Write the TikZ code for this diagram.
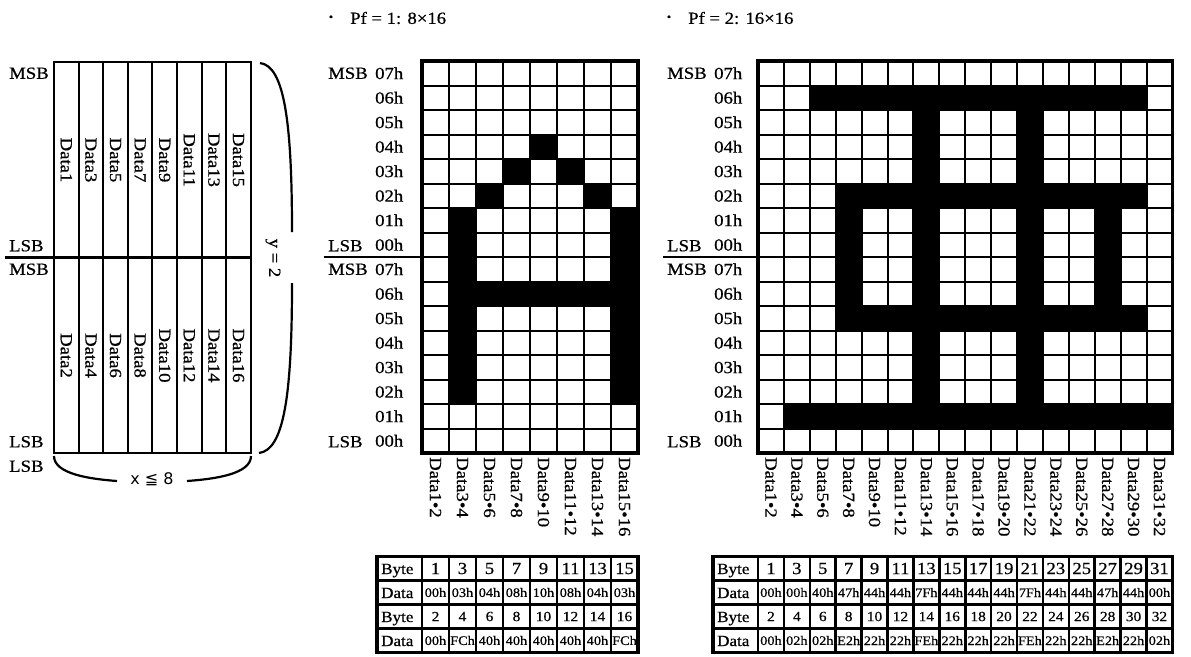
\documentclass[tikz,border=0pt]{standalone}
\usepackage{fontspec}
\setmainfont{Liberation Serif}[FakeStretch=1.1,FakeBold=0.6]
\newfontfamily\sansf{DejaVu Sans}
\usepackage{graphicx}

\tikzset{
  gl/.style={line width=2pt},
  bord/.style={line width=3.4pt},
  divl/.style={line width=2.8pt},
  brc/.style={line width=2.2pt},
  tline/.style={line width=2.6pt},
  lbl/.style={inner sep=0pt, font=\fontsize{17}{19}\selectfont},
  tlbl/.style={inner sep=0pt, font=\fontsize{15.5}{17}\selectfont},
  onum/.style={inner sep=0pt, font=\fontsize{17}{19}\selectfont},
  enum/.style={inner sep=0pt, font=\fontsize{14}{16}\selectfont},
  hexv/.style={inner sep=0pt, font=\fontsize{13}{15}\selectfont},
}

% #1 x0, #2 cell width, #3 list of byte values, #4 row of bit 0
\newcommand\drawbits[4]{%
  \foreach \v [count=\c from 0] in {#3} {
    \foreach \b in {0,...,7} {
      \pgfmathtruncatemacro\bitval{mod(floor(\v/pow(2,\b)),2)}
      \ifnum\bitval=1
        \fill (#1+\c*#2, 61+#4*24.5-\b*24.5) rectangle ++(#2,24.5);
      \fi
    }
  }
}

% #1 x0, #2 cell width, #3 number of columns
\newcommand\drawlattice[3]{%
  \foreach \i in {0,...,#3} \draw[gl] (#1+\i*#2,61) -- (#1+\i*#2,453);
  \foreach \j in {0,...,16} \draw[gl] (#1,61+\j*24.5) -- (#1+#3*#2,61+\j*24.5);
  \draw[bord] (#1,61) rectangle (#1+#3*#2,453);
}

% #1 x of MSB, #2 x of hex labels
\newcommand\rowlabels[2]{%
  \foreach \r in {0,...,7} {
    \pgfmathtruncatemacro\hv{7-\r}
    \node[lbl,anchor=west] at (#2,61+24.5*\r+12.25) {0\hv h};
    \node[lbl,anchor=west] at (#2,61+24.5*\r+208.25) {0\hv h};
  }
  \node[lbl,anchor=west] at (#1,73.25) {MSB};
  \node[lbl,anchor=west] at (#1,245.75) {LSB};
  \node[lbl,anchor=west] at (#1,269.25) {MSB};
  \node[lbl,anchor=west] at (#1,441.75) {LSB};
}

% #1 x0, #2 cell width, #3 number of columns
\newcommand\collabels[3]{%
  \foreach \i in {1,...,#3} {
    \pgfmathtruncatemacro\na{2*\i-1}
    \pgfmathtruncatemacro\nb{2*\i}
    \node[lbl,rotate=-90,anchor=west] at (#1+\i*#2-0.5*#2,457) {Data\na•\nb};
  }
}

% #1 left, #2 x0 values, #3 width, #4 n, #5 odd hex, #6 even hex
\newcommand\bytetable[6]{%
  \foreach \yy in {580.5,604.5,628.5} \draw[tline] (#1,\yy) -- (#2+#4*#3,\yy);
  \foreach \i in {0,...,#4} \draw[tline] (#2+\i*#3,556.5) -- (#2+\i*#3,652.5);
  \draw[bord] (#1,556.5) rectangle (#2+#4*#3,652.5);
  \node[tlbl,anchor=base west] at (#1+4,574) {Byte};
  \node[tlbl,anchor=base west] at (#1+4,598) {Data};
  \node[tlbl,anchor=base west] at (#1+4,622) {Byte};
  \node[tlbl,anchor=base west] at (#1+4,646) {Data};
  \foreach \i in {1,...,#4} {
    \pgfmathtruncatemacro\na{2*\i-1}
    \pgfmathtruncatemacro\nb{2*\i}
    \node[onum] at (#2+\i*#3-0.5*#3,568.5) {\na};
    \node[enum] at (#2+\i*#3-0.5*#3,616.5) {\nb};
  }
  \foreach \h [count=\i from 0] in {#5}
    \node[hexv] at (#2+\i*#3+0.5*#3,592.5) {\h};
  \foreach \h [count=\i from 0] in {#6}
    \node[hexv] at (#2+\i*#3+0.5*#3,640.5) {\h};
}

\begin{document}
\begin{tikzpicture}[x=1pt,y=-1pt]
\useasboundingbox (0,0) rectangle (1191,656);

% ---------- titles ----------
\node[inner sep=0pt,font=\fontsize{11}{11}\selectfont] (b1) at (331,18) {•};
\node[lbl,anchor=west] (t1) at (350,18) {Pf = 1: 8×16};
\node[inner sep=0pt,font=\fontsize{11}{11}\selectfont] (b2) at (669,18) {•};
\node[lbl,anchor=west] (t2) at (688,18) {Pf = 2: 16×16};

% ---------- left box ----------
\foreach \i in {0,...,8} \draw[gl] (54+\i*24.6,62) -- (54+\i*24.6,453);
\draw[gl] (52.9,62) -- (251.9,62);
\draw[gl] (52.9,453) -- (251.9,453);
\draw[divl] (5,257.5) -- (251.9,257.5);
\foreach \i in {0,...,7} {
  \pgfmathtruncatemacro\na{2*\i+1}
  \pgfmathtruncatemacro\nb{2*\i+2}
  \node[lbl,rotate=-90] at (54+24.6*\i+12.3,160) {Data\na};
  \node[lbl,rotate=-90] at (54+24.6*\i+12.3,355.5) {Data\nb};
}
\node[lbl,anchor=west] (lm1) at (9,73.25) {MSB};
\node[lbl,anchor=west] (ll1) at (9,245.75) {LSB};
\node[lbl,anchor=west] (lm2) at (9,269.25) {MSB};
\node[lbl,anchor=west] (ll2) at (9,441.75) {LSB};
\node[lbl,anchor=west] (ll3) at (9,466.25) {LSB};

% right brace
\draw[brc] (260,63) .. controls (284,66) and (292,120) .. (292,232);
\draw[brc] (292,283) .. controls (292,395) and (284,450) .. (259,453);
\node[lbl,rotate=-90] (ylab) at (273,258) {y = 2};
% bottom brace
\draw[brc] (54,456) .. controls (54,474) and (90,479) .. (117,481);
\draw[brc] (187,481) .. controls (215,479) and (251,474) .. (251,456);
\node[inner sep=0pt,font=\sansf\fontsize{16}{18}\selectfont] (xlab) at (152,479) {x ≦ 8};

% ---------- middle grid (8 x 16) ----------
\drawbits{422}{27}{0,3,4,8,16,8,4,3}{7}
\drawbits{422}{27}{0,252,64,64,64,64,64,252}{15}
\drawlattice{422}{27}{8}
\draw[divl] (324,257) -- (422,257);
\rowlabels{328}{375}
\collabels{422}{27}{8}
\bytetable{377}{422}{27}{8}{00h,03h,04h,08h,10h,08h,04h,03h}{00h,FCh,40h,40h,40h,40h,40h,FCh}

% ---------- right grid (16 x 16) ----------
\drawbits{758}{25.9}{0,0,64,71,68,68,127,68,68,68,127,68,68,71,68,0}{7}
\drawbits{758}{25.9}{0,2,2,226,34,34,254,34,34,34,254,34,34,226,34,2}{15}
\drawlattice{758}{25.9}{16}
\draw[divl] (663,257) -- (758,257);
\rowlabels{667}{714}
\collabels{758}{25.9}{16}
\bytetable{713}{758}{25.9}{16}{00h,00h,40h,47h,44h,44h,7Fh,44h,44h,44h,7Fh,44h,44h,47h,44h,00h}{00h,02h,02h,E2h,22h,22h,FEh,22h,22h,22h,FEh,22h,22h,E2h,22h,02h}

\end{tikzpicture}
\end{document}
